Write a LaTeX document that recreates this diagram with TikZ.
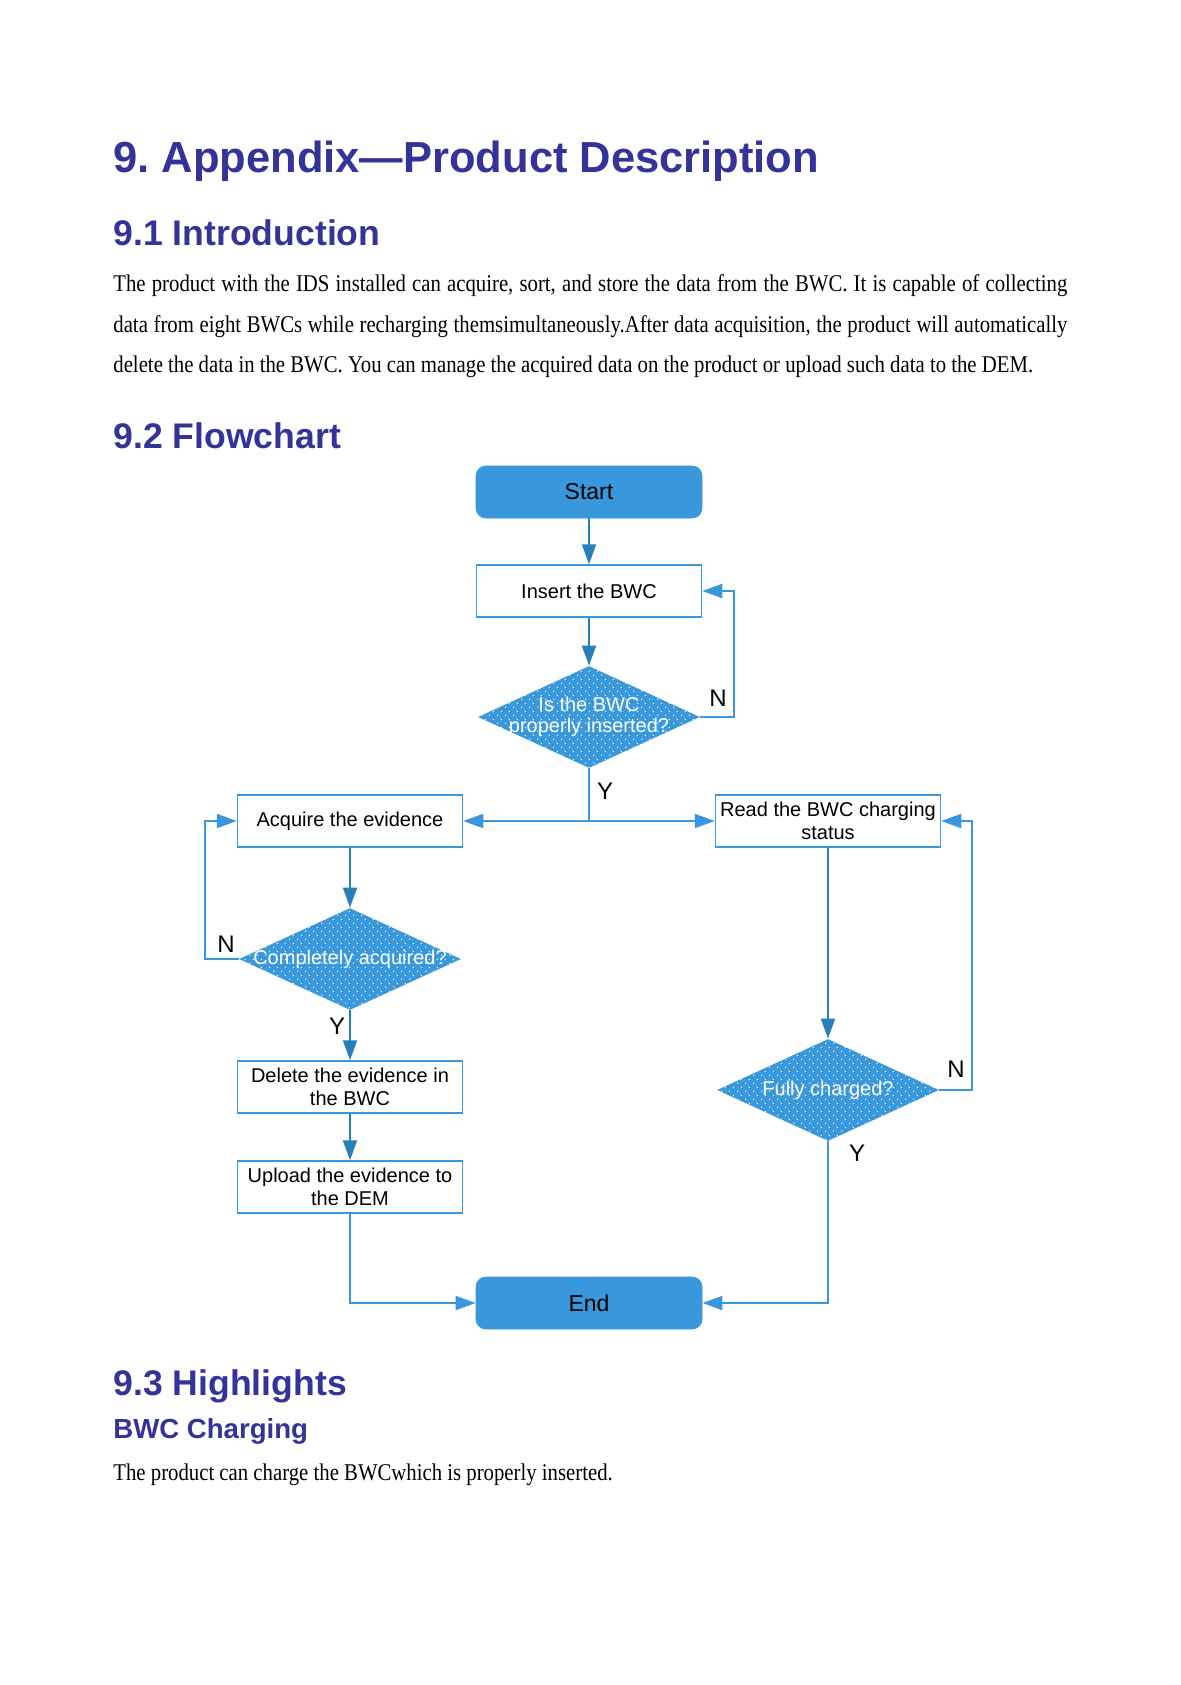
\documentclass[tikz,border=0pt]{standalone}
\usepackage{fontspec}
\usepackage{graphicx}
\setmainfont{Liberation Serif}
\newfontfamily\arialf{Liberation Sans}
\usetikzlibrary{arrows.meta,shapes.geometric,patterns.meta}
\definecolor{cblue}{RGB}{57,152,219}
\definecolor{dblue}{RGB}{41,128,185}
\definecolor{hblue}{RGB}{51,51,153}
\tikzdeclarepattern{
  name=wdots,
  type=uncolored,
  bounding box={(0pt,0pt) and (4pt,4pt)},
  tile size={(4pt,4pt)},
  code={
    \fill (0.7pt,0.7pt) rectangle (1.35pt,1.35pt);
    \fill (2.7pt,2.7pt) rectangle (3.35pt,3.35pt);
  }
}
\frenchspacing
\begin{document}
\begin{tikzpicture}[x=0.5pt,y=-0.5pt,
  term/.style={rounded corners=5pt, fill=cblue, draw=cblue, minimum width=113pt, minimum height=26pt, inner sep=0pt, font=\arialf\fontsize{11.5}{13}\selectfont},
  proc/.style={draw=cblue, line width=0.75pt, fill=white, minimum width=112.5pt, minimum height=26pt, inner sep=0pt, align=center, font=\arialf\fontsize{10}{11.8}\selectfont},
  dec/.style={diamond, fill=cblue, postaction={pattern=wdots, pattern color=white}, minimum width=111pt, minimum height=51pt, inner sep=0pt},
  dtext/.style={text=white, align=center, inner sep=0pt, font=\arialf\fontsize{10}{10.2}\selectfont},
  lab/.style={inner sep=0pt, font=\arialf\fontsize{12}{14}\selectfont},
  head/.style={anchor=base west, inner sep=0pt, text=hblue},
  body/.style={anchor=base west, inner sep=0pt, font=\fontsize{12}{14}\selectfont},
  dconn/.style={draw=dblue, line width=1pt, -{Triangle[length=10pt,width=7pt]}},
  lconn/.style={draw=cblue, line width=1pt, -{Triangle[length=10pt,width=7pt]}},
  lline/.style={draw=cblue, line width=1pt}
]
\useasboundingbox (0,0) rectangle (1180,1685);
\fill[white] (0,0) rectangle (1180,1685);

% headings and text
\node[head, font=\arialf\bfseries\fontsize{21.75}{26}\selectfont] (title) at (113,173) {9. Appendix—Product Description};
\node[head, font=\arialf\bfseries\fontsize{17.8}{22}\selectfont] (h91) at (113,245) {9.1 Introduction};
\node[body] (p1) at (113,292) {\scalebox{0.865}[1]{\makebox[551.4pt][s]{The product with the IDS installed can acquire, sort, and store the data from the BWC. It is capable of collecting}}};
\node[body] (p2) at (113,332) {\scalebox{0.865}[1]{\makebox[551.4pt][s]{data from eight BWCs while recharging themsimultaneously.After data acquisition, the product will automatically}}};
\node[body] (p3) at (113,372) {\scalebox{0.865}[1]{delete the data in the BWC. You can manage the acquired data on the product or upload such data to the DEM.}};
\node[head, font=\arialf\bfseries\fontsize{17.8}{22}\selectfont] (h92) at (113,448) {9.2 Flowchart};
\node[head, font=\arialf\bfseries\fontsize{17.8}{22}\selectfont] (h93) at (113,1395) {9.3 Highlights};
\node[head, font=\arialf\bfseries\fontsize{13.8}{17}\selectfont] (h94) at (113,1438) {BWC Charging};
\node[body] (p4) at (113,1480) {\scalebox{0.865}[1]{The product can charge the BWCwhich is properly inserted.}};

% flowchart nodes
\node[term] (start) at (589,492) {Start};
\node[proc] (insert) at (589,591) {Insert the BWC};
\node[dec] (d1) at (589,717) {};
\node[dtext] (d1t) at (589,717) {Is the BWC\\properly inserted?};
\node[proc] (acq) at (350,821) {Acquire the evidence};
\node[proc] (read) at (828,821) {Read the BWC charging\\status};
\node[dec] (d2) at (350,959) {};
\node[dtext] (d2t) at (350,959) {Completely acquired?};
\node[proc] (del) at (350,1087) {Delete the evidence in\\the BWC};
\node[proc] (up) at (350,1187) {Upload the evidence to\\the DEM};
\node[dec] (d3) at (828,1090) {};
\node[dtext] (d3t) at (828,1090) {Fully charged?};
\node[term] (end) at (589,1303) {End};
\coordinate (split) at (589,821);

% connectors
\draw[dconn] (start) -- (insert);
\draw[dconn] (insert) -- (d1);
\draw[lconn] (d1.east) -- ++(34,0) |- (insert.east);
\draw[lline] (d1.south) -- (split);
\draw[lconn] (split) -- (acq.east);
\draw[lconn] (split) -- (read.west);
\draw[dconn] (acq) -- (d2);
\draw[lconn] (d2.west) -- ++(-34,0) |- (acq.west);
\draw[dconn] (d2) -- (del);
\draw[dconn] (del) -- (up);
\draw[lconn] (up.south) |- (end.west);
\draw[dconn] (read) -- (d3);
\draw[lconn] (d3.east) -- ++(33,0) |- (read.east);
\draw[lconn] (d3.south) |- (end.east);

% labels
\node[lab] (n1) at (718,698) {N};
\node[lab] (y1) at (605,791) {Y};
\node[lab] (n2) at (226,944) {N};
\node[lab] (y2) at (337,1026) {Y};
\node[lab] (n3) at (956,1069) {N};
\node[lab] (y3) at (857,1153) {Y};
\end{tikzpicture}
\end{document}
